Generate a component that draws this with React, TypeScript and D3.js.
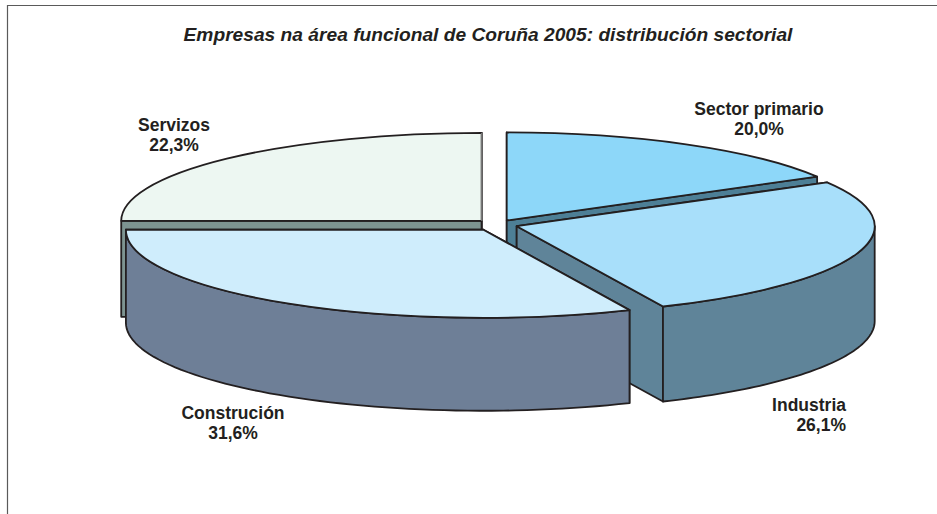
import { useEffect, useRef } from 'react';
import * as d3 from 'd3';

// ==========================================
// DATA
// ==========================================
const categories = ['Sector primario', 'Industria', 'Construción', 'Servizos'];
const percentLabels = ['20,0%', '26,1%', '31,6%', '22,3%'];
// the drawn slices do not follow the printed labels, so these are read off the picture
const sliceShares = [16.7, 26.6, 31.7, 25.0];

const topColors = ['#8dd7f9', '#a8dffa', '#cfedfc', '#edf7f2'];
const sideColors = ['#4d7f96', '#5f8499', '#6e7f97', '#7d9491'];
const explosion = [19.4, 20.7, 25, 21.6];
const rimWidths = [358, 358, 357.5, 360.5];
const wallDepths = [94, 95, 93, 96];

const titleText = 'Empresas na área funcional de Coruña 2005: distribución sectorial';

const labelPlaces = [
  { x: 759, y: 115, anchor: 'middle' },
  { x: 846, y: 411, anchor: 'end' },
  { x: 233, y: 419, anchor: 'middle' },
  { x: 174, y: 131, anchor: 'middle' },
];

const App = () => {
  const svgRef = useRef<SVGSVGElement>(null);

  useEffect(() => {
    const width = 937;
    const height = 514;
    const cx = 497;
    const cy = 224.6;
    const baseRx = 358;
    const ry = 88;
    const ink = '#231f20';

    const svg = d3.select(svgRef.current);
    svg.selectAll('*').remove();
    svg.attr('width', width).attr('height', height);

    // frame
    svg.append('path')
      .attr('d', `M7.5,${height}V5.5H${width}`)
      .attr('fill', 'none')
      .attr('stroke', '#5a5a5a')
      .attr('stroke-width', 1.2);

    svg.append('text')
      .attr('x', 488)
      .attr('y', 41)
      .attr('text-anchor', 'middle')
      .attr('font-family', '"Liberation Sans", Arial, sans-serif')
      .attr('font-size', 19.2)
      .attr('font-weight', 'bold')
      .attr('font-style', 'italic')
      .attr('fill', ink)
      .text(titleText);

    // ==========================================
    // SLICES
    // ==========================================
    const pie = d3.pie<number>().sort(null).value((d) => d);
    const slices = pie(sliceShares).map((s, i) => {
      const mid = (s.startAngle + s.endAngle) / 2;
      return {
        ...s,
        i,
        ax: cx + explosion[i] * Math.sin(mid),
        ay: cy - (explosion[i] * Math.cos(mid) * ry) / baseRx,
      };
    });

    const arc = d3.arc<any>().innerRadius(0).outerRadius(1);
    const line = d3.line<[number, number]>();

    // back slices first, so the front ones paint over them
    const order = [3, 0, 1, 2];

    order.forEach((idx) => {
      const s = slices[idx];
      const rx = rimWidths[idx];
      const depth = wallDepths[idx];
      const g = svg.append('g')
        .attr('stroke', ink)
        .attr('stroke-width', 1.8)
        .attr('stroke-linejoin', 'round');

      const rim = (a: number): [number, number] => [
        s.ax + rx * Math.sin(a),
        s.ay - ry * Math.cos(a),
      ];

      // radial walls
      [s.startAngle, s.endAngle].forEach((a) => {
        const [ex, ey] = rim(a);
        g.append('path')
          .attr('d', line([
            [s.ax, s.ay],
            [ex, ey],
            [ex, ey + depth],
            [s.ax, s.ay + depth],
          ]) + 'Z')
          .attr('fill', sideColors[idx]);
      });

      // outer wall, only the part turned towards the viewer
      const from = Math.max(s.startAngle, Math.PI / 2);
      const to = Math.min(s.endAngle, (3 * Math.PI) / 2);
      if (to > from) {
        const steps = d3.range(0, 61).map((k) => from + ((to - from) * k) / 60);
        const upper = steps.map(rim);
        const lower = steps.map(rim).reverse()
          .map(([x, y]) => [x, y + depth] as [number, number]);
        g.append('path')
          .attr('d', line([...upper, ...lower]) + 'Z')
          .attr('fill', sideColors[idx]);
      }

      // top face
      g.append('path')
        .attr('d', arc(s))
        .attr('transform', `translate(${s.ax},${s.ay}) scale(${rx},${ry})`)
        .attr('vector-effect', 'non-scaling-stroke')
        .attr('fill', topColors[idx]);

      // the straight edge of Servizos facing the gap is a lighter grey
      if (idx === 3) {
        g.append('path')
          .attr('d', line([[s.ax, s.ay], rim(s.endAngle)]))
          .attr('stroke', '#777');
      }
    });

    // ==========================================
    // LABELS
    // ==========================================
    categories.forEach((name, i) => {
      const place = labelPlaces[i];
      const label = svg.append('text')
        .attr('text-anchor', place.anchor)
        .attr('font-family', '"Liberation Sans", Arial, sans-serif')
        .attr('font-size', 17.5)
        .attr('font-weight', 'bold')
        .attr('fill', ink);
      label.append('tspan').attr('x', place.x).attr('y', place.y).text(name);
      label.append('tspan').attr('x', place.x).attr('y', place.y + 19.5).text(percentLabels[i]);
    });
  }, []);

  return <svg ref={svgRef} style={{ position: 'absolute', left: 0, top: 0, background: '#fff' }} />;
};

export default App;
